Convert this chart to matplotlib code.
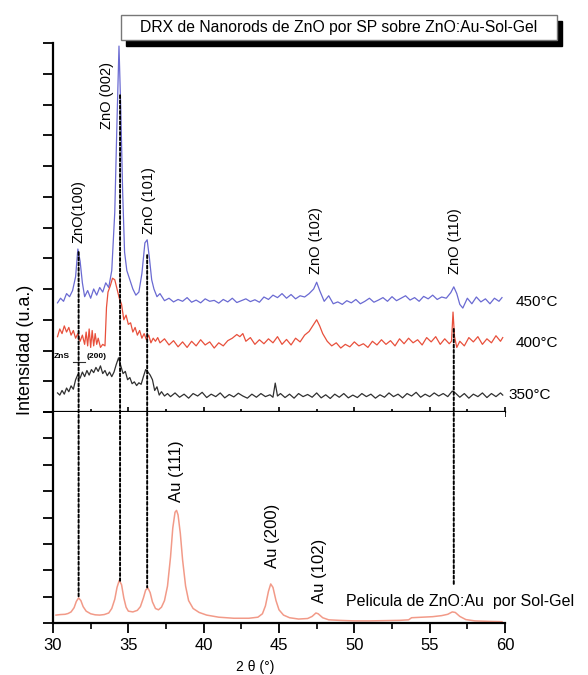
import matplotlib
matplotlib.use('Agg')
import matplotlib.pyplot as plt
from matplotlib.patches import Rectangle, ConnectionPatch
from matplotlib.ticker import MultipleLocator

plt.rcParams['font.family'] = ['Liberation Sans', 'DejaVu Sans']

# ---- data (2theta in degrees, intensity in arbitrary units) ----
x450 = [30.3, 30.5, 30.7, 30.9, 31.1, 31.3, 31.5, 31.65, 31.8, 31.95, 32.1, 32.3, 32.5, 32.7,
        32.9, 33.1, 33.3, 33.5, 33.7, 33.9, 34.1, 34.25, 34.38, 34.5, 34.62, 34.75, 34.9, 35.1,
        35.3, 35.5, 35.7, 35.9, 36.1, 36.25, 36.4, 36.55, 36.7, 36.9,
        37.1, 37.4, 37.7, 38.0, 38.3, 38.6, 38.9, 39.2, 39.5, 39.8, 40.1, 40.4, 40.7, 41.0,
        41.3, 41.6, 41.9, 42.2, 42.5, 42.8, 43.1, 43.4, 43.7, 44.0, 44.3, 44.6, 44.9, 45.2,
        45.5, 45.8, 46.1, 46.4, 46.7, 47.0, 47.3, 47.5, 47.7, 48.0, 48.3, 48.6, 48.9, 49.2,
        49.5, 49.8, 50.1, 50.4, 50.7, 51.0, 51.3, 51.6, 51.9, 52.2, 52.5, 52.8, 53.1, 53.4,
        53.7, 54.0, 54.3, 54.6, 54.9, 55.2, 55.5, 55.8, 56.1, 56.4, 56.6, 56.8, 57.0, 57.2,
        57.5, 57.8, 58.1, 58.4, 58.7, 59.0, 59.3, 59.6, 59.8]
y450 = [3.55, 3.70, 3.60, 3.85, 3.75, 3.95, 4.40, 5.30, 4.90, 4.20, 3.75, 3.95, 3.70, 4.00,
        3.80, 4.05, 3.90, 4.20, 4.05, 4.60, 6.50, 9.50, 11.90, 9.80, 7.20, 5.20, 4.60, 4.30,
        4.00, 3.80, 3.90, 4.50, 5.50, 5.60, 5.00, 4.30, 4.00, 3.75,
        3.85, 3.62, 3.70, 3.58, 3.66, 3.60, 3.72, 3.57, 3.64, 3.55, 3.68, 3.60, 3.63, 3.54,
        3.66, 3.58, 3.70, 3.56, 3.62, 3.68, 3.59, 3.65, 3.57, 3.74, 3.66, 3.80, 3.72, 3.85,
        3.70, 3.82, 3.68, 3.78, 3.74, 3.85, 4.00, 4.22, 3.95, 3.60, 3.78, 3.52, 3.58, 3.50,
        3.62, 3.55, 3.66, 3.52, 3.60, 3.70, 3.57, 3.64, 3.72, 3.60, 3.75, 3.62, 3.70, 3.78,
        3.64, 3.72, 3.60, 3.76, 3.68, 3.80, 3.66, 3.74, 3.70, 3.88, 4.07, 3.85, 3.50, 3.38,
        3.70, 3.52, 3.74, 3.58, 3.68, 3.52, 3.70, 3.60, 3.72]

x400 = [30.3, 30.45, 30.6, 30.75, 30.9, 31.05, 31.2, 31.35, 31.5, 31.65, 31.8, 31.95, 32.1,
        32.2, 32.3, 32.4, 32.5, 32.6, 32.7, 32.8, 32.9, 33.0, 33.15, 33.3, 33.45, 33.55, 33.65,
        33.8, 33.95, 34.1, 34.25, 34.4, 34.55, 34.7, 34.85, 35.0, 35.15, 35.3, 35.45, 35.6,
        35.75, 35.9, 36.05, 36.2, 36.35, 36.5, 36.65, 36.8, 36.95, 37.1, 37.4, 37.7, 38.0,
        38.3, 38.6, 38.9, 39.2, 39.5, 39.8, 40.1, 40.4, 40.7, 41.0, 41.3, 41.6, 41.9, 42.2,
        42.4, 42.6, 42.8, 43.1, 43.4, 43.7, 44.0, 44.3, 44.6, 44.9, 45.2, 45.5, 45.8, 46.1,
        46.4, 46.7, 47.0, 47.3, 47.5, 47.7, 47.9, 48.2, 48.5, 48.8, 49.1, 49.4, 49.7, 50.0,
        50.3, 50.6, 50.9, 51.2, 51.5, 51.8, 52.1, 52.4, 52.7, 53.0, 53.3, 53.6, 53.9, 54.2,
        54.5, 54.8, 55.1, 55.4, 55.7, 56.0, 56.3, 56.45, 56.55, 56.65, 56.8, 57.0, 57.3, 57.6,
        57.9, 58.2, 58.5, 58.8, 59.1, 59.4, 59.7, 59.85]
y400 = [2.45, 2.70, 2.55, 2.80, 2.60, 2.75, 2.50, 2.65, 2.40, 2.55, 2.30, 2.50, 2.20,
        2.60, 2.15, 2.70, 2.10, 2.65, 2.15, 2.55, 2.20, 2.40, 2.10, 2.20, 2.15, 3.40, 3.90,
        4.10, 4.35, 4.30, 4.00, 3.70, 3.50, 3.00, 3.15, 2.85, 2.90, 2.60, 2.75, 2.50,
        2.65, 2.40, 2.55, 2.35, 2.50, 2.25, 2.40, 2.30, 2.42, 2.25, 2.38, 2.18, 2.32,
        2.12, 2.28, 2.10, 2.30, 2.15, 2.35, 2.18, 2.28, 2.08, 2.25, 2.15, 2.32, 2.40, 2.52,
        2.45, 2.55, 2.30, 2.42, 2.20, 2.35, 2.22, 2.38, 2.25, 2.45, 2.20, 2.36, 2.18, 2.40,
        2.28, 2.50, 2.62, 2.85, 3.00, 2.80, 2.55, 2.30, 2.15, 2.25, 2.08, 2.20, 2.12, 2.28,
        2.15, 2.22, 2.10, 2.30, 2.18, 2.35, 2.20, 2.32, 2.15, 2.38, 2.22, 2.40, 2.25, 2.35,
        2.18, 2.42, 2.28, 2.45, 2.20, 2.38, 2.22, 2.30, 3.25, 2.45, 2.10, 2.30, 2.15, 2.42,
        2.28, 2.45, 2.20, 2.38, 2.25, 2.48, 2.30, 2.42]

x350 = [30.3, 30.45, 30.6, 30.75, 30.9, 31.05, 31.2, 31.35, 31.5, 31.65, 31.8, 31.95, 32.1,
        32.25, 32.4, 32.55, 32.7, 32.85, 33.0, 33.15, 33.3, 33.45, 33.6, 33.75, 33.9, 34.05,
        34.2, 34.35, 34.5, 34.65, 34.8, 34.95, 35.1, 35.25, 35.4, 35.55, 35.7, 35.85, 36.0,
        36.15, 36.3, 36.45, 36.6, 36.75, 36.9, 37.05, 37.2, 37.4, 37.6, 37.8, 38.1, 38.4,
        38.7, 39.0, 39.3, 39.6, 39.9, 40.2, 40.5, 40.8, 41.1, 41.4, 41.7, 42.0, 42.3, 42.6,
        42.9, 43.2, 43.5, 43.8, 44.1, 44.4, 44.6, 44.75, 44.9, 45.1, 45.4, 45.7, 46.0, 46.3,
        46.6, 46.9, 47.2, 47.5, 47.8, 48.1, 48.4, 48.7, 49.0, 49.3, 49.6, 49.9, 50.2, 50.5,
        50.8, 51.1, 51.4, 51.7, 52.0, 52.3, 52.6, 52.9, 53.2, 53.5, 53.8, 54.1, 54.4, 54.7,
        55.0, 55.3, 55.6, 55.9, 56.2, 56.5, 56.7, 57.0, 57.3, 57.6, 57.9, 58.2, 58.5, 58.8,
        59.1, 59.4, 59.7, 59.85]
y350 = [0.62, 0.55, 0.70, 0.58, 0.78, 0.66, 0.85, 0.74, 1.05, 1.22, 1.10, 1.30, 1.15,
        1.35, 1.20, 1.38, 1.28, 1.45, 1.32, 1.50, 1.25, 1.35, 1.18, 1.30, 1.15, 1.30,
        1.55, 1.76, 1.50, 1.25, 1.32, 1.05, 1.12, 0.92, 0.98, 0.86, 0.95, 0.90, 1.15,
        1.38, 1.30, 1.20, 1.05, 0.70, 0.82, 0.55, 0.66, 0.52, 0.60, 0.50, 0.62, 0.48,
        0.58, 0.45, 0.60, 0.52, 0.64, 0.47, 0.58, 0.50, 0.62, 0.46, 0.57, 0.49, 0.61, 0.52,
        0.45, 0.58, 0.48, 0.60, 0.50, 0.56, 0.48, 0.94, 0.52, 0.60, 0.47, 0.58, 0.45, 0.60,
        0.50, 0.57, 0.48, 0.62, 0.46, 0.56, 0.44, 0.58, 0.48, 0.60, 0.46, 0.55, 0.47, 0.60,
        0.50, 0.58, 0.45, 0.56, 0.48, 0.62, 0.50, 0.58, 0.46, 0.60, 0.52, 0.64, 0.48, 0.58,
        0.50, 0.62, 0.52, 0.60, 0.50, 0.68, 0.62, 0.48, 0.60, 0.45, 0.58, 0.50, 0.62, 0.47,
        0.60, 0.50, 0.62, 0.55]

x_sg = [30.2, 30.5, 30.8, 31.0, 31.2, 31.4, 31.55, 31.7, 31.85, 32.0, 32.2, 32.5, 32.8, 33.1,
        33.4, 33.7, 33.9, 34.1, 34.25, 34.4, 34.55, 34.7, 34.85, 35.0, 35.3, 35.6, 35.8, 36.0,
        36.15, 36.3, 36.45, 36.6, 36.8, 37.0, 37.2, 37.4, 37.6, 37.8, 37.95, 38.1, 38.2, 38.3,
        38.45, 38.6, 38.8, 39.0, 39.3, 39.7, 40.2, 41.0, 42.0, 43.0, 43.6, 43.9, 44.1, 44.3,
        44.45, 44.6, 44.8, 45.0, 45.3, 45.7, 46.3, 46.9, 47.2, 47.45, 47.6, 47.9, 48.3, 49.0,
        50.0, 51.0, 52.0, 53.0, 53.6, 53.8, 54.5, 55.2, 55.8, 56.2, 56.5, 56.7, 57.0, 57.4,
        58.0, 59.0, 59.8]
y_sg = [0.30, 0.32, 0.33, 0.36, 0.42, 0.58, 0.82, 0.95, 0.85, 0.62, 0.45, 0.35, 0.31, 0.30,
        0.32, 0.38, 0.55, 0.90, 1.35, 1.62, 1.45, 0.95, 0.60, 0.45, 0.42, 0.48, 0.62, 0.95,
        1.25, 1.33, 1.15, 0.80, 0.55, 0.50, 0.60, 0.85, 1.40, 2.50, 3.60, 4.20, 4.27, 4.10,
        3.40, 2.40, 1.40, 0.85, 0.55, 0.40, 0.30, 0.22, 0.18, 0.18, 0.22, 0.35, 0.65, 1.20,
        1.48, 1.35, 0.85, 0.50, 0.30, 0.20, 0.15, 0.17, 0.25, 0.38, 0.35, 0.20, 0.12, 0.10,
        0.08, 0.08, 0.09, 0.10, 0.12, 0.20, 0.22, 0.24, 0.28, 0.33, 0.42, 0.40, 0.25, 0.13,
        0.08, 0.06, 0.05]

temp_labels = ['450°C', '400°C', '350°C']
temp_x = [60.7, 60.7, 60.2]
temp_y = [3.58, 2.24, 0.55]

zno_labels = ['ZnO(100)', 'ZnO (002)', 'ZnO (101)', 'ZnO (102)', 'ZnO (110)']
zno_x = [31.7, 33.6, 36.35, 47.45, 56.7]
zno_y = [5.5, 9.2, 5.8, 4.5, 4.5]

au_labels = ['Au (111)', 'Au (200)', 'Au (102)']
au_x = [38.2, 44.6, 47.7]
au_y = [4.6, 2.1, 0.76]

# dotted guide lines: position, top end (upper panel), bottom end (lower panel)
guide_x = [31.7, 34.45, 36.25, 56.6]
guide_top = [5.2, 10.3, 5.1, 2.7]
guide_bot = [1.0, 1.6, 1.35, 1.45]

W, H = 588, 675
fig = plt.figure(figsize=(W / 100, H / 100), dpi=100)

L, R = 53, 505
ax_top = fig.add_axes([L / W, 1 - 412 / H, (R - L) / W, (412 - 43) / H])
ax_bot = fig.add_axes([L / W, 1 - 623 / H, (R - L) / W, (623 - 412) / H])

ax_top.plot(x450, y450, color='#6a6ad2', lw=0.9)
ax_top.plot(x400, y400, color='#e8503c', lw=0.9)
ax_top.plot(x350, y350, color='#303030', lw=0.9)
ax_bot.plot(x_sg, y_sg, color='#f29a88', lw=1.1)

for ax in (ax_top, ax_bot):
    ax.set_xlim(30, 60)
    ax.spines['top'].set_visible(False)
    ax.spines['right'].set_visible(False)
    ax.spines['left'].set_linewidth(1.6)
    ax.spines['bottom'].set_linewidth(1.6)
    ax.set_yticklabels([])
    ax.xaxis.set_major_locator(MultipleLocator(5))
    ax.xaxis.set_minor_locator(MultipleLocator(2.5))

ax_top.set_ylim(0, 12)
ax_top.set_yticks(range(13))
ax_top.tick_params(axis='y', direction='out', length=7, width=1.3)
ax_top.tick_params(axis='x', which='both', direction='inout', labelbottom=False, width=1.2)
ax_top.tick_params(axis='x', which='major', length=7)
ax_top.tick_params(axis='x', which='minor', length=4)

ax_bot.set_ylim(0, 8)
ax_bot.set_yticks(range(9))
ax_bot.tick_params(axis='y', direction='out', length=7, width=1.3)
ax_bot.tick_params(axis='x', which='major', direction='out', length=7, width=1.3,
                   labelsize=12, pad=4)
ax_bot.tick_params(axis='x', which='minor', direction='out', length=4, width=1.2)

ax_bot.set_xlabel('2 θ (°)', fontsize=10)
ax_bot.xaxis.set_label_coords((255 - L) / (R - L), -0.175)

fig.text(25 / W, 1 - 350 / H, 'Intensidad (u.a.)', rotation=90, ha='center', va='center',
         fontsize=13)

for lab, tx, ty in zip(temp_labels, temp_x, temp_y):
    ax_top.text(tx, ty, lab, fontsize=11, ha='left', va='center', clip_on=False)

for lab, px, py in zip(zno_labels, zno_x, zno_y):
    ax_top.text(px, py, lab, rotation=90, fontsize=10.5, ha='center', va='bottom')

for lab, px, py in zip(au_labels, au_x, au_y):
    ax_bot.text(px, py, lab, rotation=90, fontsize=12, ha='center', va='bottom')

ax_bot.text(49.45, 0.8, 'Pelicula de ZnO:Au  por Sol-Gel', fontsize=11.5, ha='left',
            va='center', clip_on=False)

ax_top.text(30.05, 1.8, 'ZnS', fontsize=6, fontweight='bold', va='center')
ax_top.text(32.2, 1.8, '(200)', fontsize=6, fontweight='bold', va='center')
ax_top.plot([31.3, 32.1], [1.62, 1.62], color='#303030', lw=0.8)

for gx, gt, gb in zip(guide_x, guide_top, guide_bot):
    con = ConnectionPatch(xyA=(gx, gt), coordsA=ax_top.transData,
                          xyB=(gx, gb), coordsB=ax_bot.transData,
                          color='black', lw=1.4, linestyle=(0, (1.5, 1.2)))
    fig.add_artist(con)

# title box with drop shadow
fig.add_artist(Rectangle((126 / W, 1 - 46 / H), (557 - 121) / W, 25 / H,
                         transform=fig.transFigure, facecolor='black', edgecolor='black'))
fig.add_artist(Rectangle((121 / W, 1 - 40 / H), (557 - 121) / W, 25 / H,
                         transform=fig.transFigure, facecolor='white', edgecolor='#777777',
                         lw=1.0))
fig.text(339 / W, 1 - 27.5 / H, 'DRX de Nanorods de ZnO por SP sobre ZnO:Au-Sol-Gel',
         ha='center', va='center', fontsize=11.3)

fig.savefig('out.png', dpi=100)
